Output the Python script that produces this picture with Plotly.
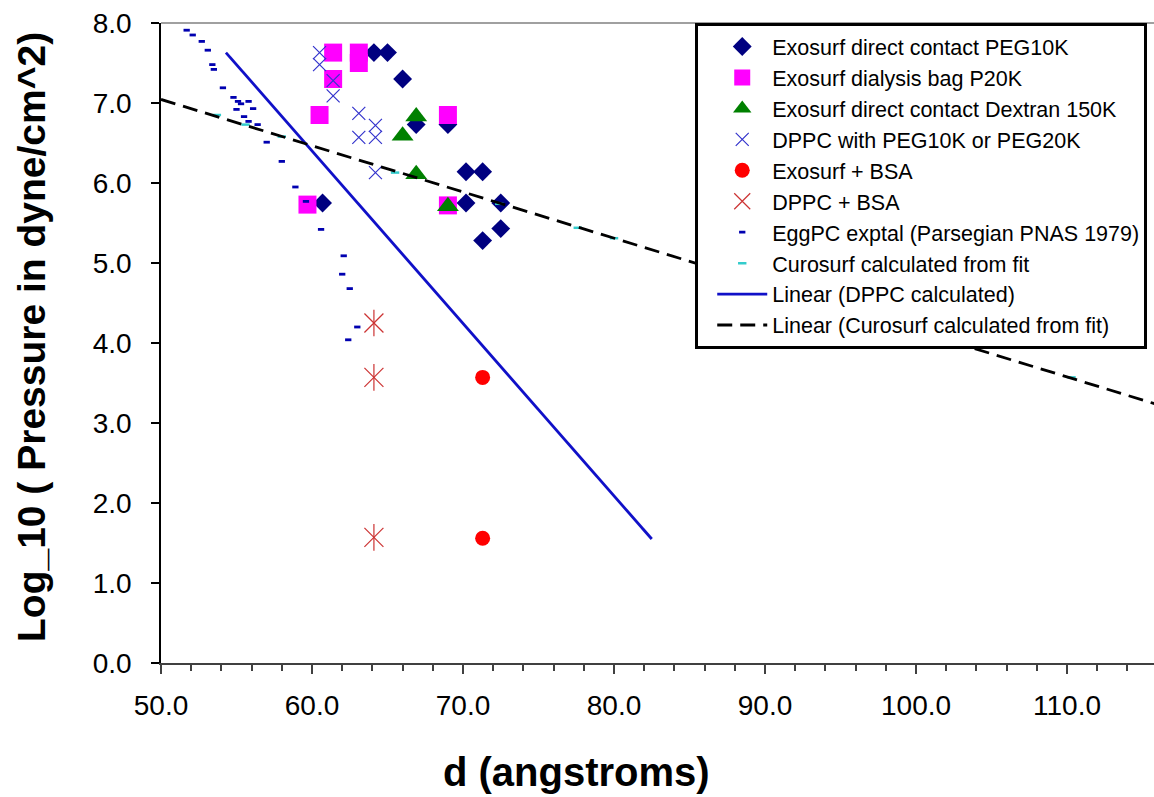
import numpy as np
import plotly.graph_objects as go

# ---------------- data ----------------
peg10k_x = [64.1, 65.0, 66.0, 66.9, 69.0, 70.2, 71.3, 60.7, 70.2, 72.5, 72.5, 71.3]
peg10k_y = [7.63, 7.63, 7.30, 6.73, 6.73, 6.14, 6.14, 5.75, 5.75, 5.75, 5.43, 5.28]

bag_x = [61.4, 63.1, 63.1, 61.4, 60.5, 69.0, 59.7, 69.0]
bag_y = [7.63, 7.63, 7.50, 7.30, 6.85, 6.85, 5.73, 5.72]

dextran_x = [66.9, 66.0, 66.9, 69.0]
dextran_y = [6.83, 6.59, 6.11, 5.71]

dppc_peg_x = [60.5, 60.5, 61.4, 61.4, 63.1, 64.2, 63.1, 64.2, 64.2]
dppc_peg_y = [7.63, 7.48, 7.28, 7.09, 6.87, 6.72, 6.57, 6.57, 6.13]

exo_bsa_x = [71.3, 71.3]
exo_bsa_y = [3.57, 1.56]

dppc_bsa_x = [64.1, 64.1, 64.1]
dppc_bsa_y = [4.25, 3.57, 1.57]

eggpc_x = [51.7, 52.1, 52.7, 53.1, 53.4, 53.5, 54.1, 54.8, 55.1, 55.8, 55.3, 55.0, 56.1,
           55.5, 55.8, 56.4, 57.0, 58.0, 58.9, 59.6, 60.6, 62.1, 62.0, 62.5, 63.0, 62.4]
eggpc_y = [7.91, 7.85, 7.77, 7.66, 7.48, 7.42, 7.19, 7.07, 7.02, 7.02, 6.99, 6.92, 6.93,
           6.83, 6.77, 6.73, 6.51, 6.27, 5.95, 5.77, 5.42, 5.09, 4.86, 4.68, 4.20, 4.04]

curo_x = [53.7, 55.6, 58.0, 65.5, 72.4, 77.6, 80.0, 110.3]
curo_y = [6.85, 6.73, 6.58, 6.13, 5.74, 5.44, 5.31, 3.57]

# DPPC calculated trendline (start / end of the fitted range)
dppc_calc_x = [54.3, 82.5]
dppc_calc_y = [7.63, 1.55]

# Curosurf trendline extent (forecast to the axis edge)
curo_fit_extent = [50.0, 116.0]

x_ticks = [50, 60, 70, 80, 90, 100, 110]
y_ticks = [0, 1, 2, 3, 4, 5, 6, 7, 8]
x_range = [50, 115.76]
y_range = [0, 8]

FONT = "Liberation Sans, Arial, sans-serif"

# linear fit of the Curosurf points
b, a = np.polyfit(curo_x, curo_y, 1)
fit_x = np.array(curo_fit_extent)
fit_y = a + b * fit_x

fig = go.Figure()

fig.add_trace(go.Scatter(
    x=peg10k_x, y=peg10k_y, mode="markers", name="Exosurf direct contact PEG10K",
    legendgroup="g1", marker=dict(symbol="diamond", size=14.5, color="#000080", line=dict(width=0))))
fig.add_trace(go.Scatter(
    x=bag_x, y=bag_y, mode="markers", name="Exosurf dialysis bag P20K",
    legendgroup="g2", marker=dict(symbol="square", size=18, color="#FF00FF", line=dict(width=0))))
fig.add_trace(go.Scatter(
    x=dextran_x, y=dextran_y, mode="markers", name="Exosurf direct contact Dextran 150K",
    legendgroup="g3", marker=dict(symbol="triangle-up", size=19, color="#008000", line=dict(width=0))))
fig.add_trace(go.Scatter(
    x=dppc_peg_x, y=dppc_peg_y, mode="markers", name="DPPC with PEG10K or PEG20K",
    legendgroup="g4", marker=dict(symbol="x-thin", size=13, color="#3333CC",
                                   line=dict(width=1.2, color="#3333CC"))))
fig.add_trace(go.Scatter(
    x=exo_bsa_x, y=exo_bsa_y, mode="markers", name="Exosurf + BSA",
    legendgroup="g5", marker=dict(symbol="circle", size=15, color="#FF0000", line=dict(width=0))))
fig.add_trace(go.Scatter(
    x=dppc_bsa_x, y=dppc_bsa_y, mode="markers", name="DPPC + BSA",
    legendgroup="g6", marker=dict(symbol="x-thin", size=19, color="#CC3333",
                                   line=dict(width=1.2, color="#CC3333"))))
fig.add_trace(go.Scatter(
    x=dppc_bsa_x, y=dppc_bsa_y, mode="markers", name="DPPC + BSA", showlegend=False,
    legendgroup="g6", marker=dict(symbol="line-ns", size=19, color="#CC3333",
                                   line=dict(width=1.2, color="#CC3333"))))
fig.add_trace(go.Scatter(
    x=eggpc_x, y=eggpc_y, mode="markers", name="EggPC exptal (Parsegian PNAS 1979)",
    legendgroup="g7", marker=dict(symbol="line-ew", size=4.5, color="#0000B0",
                                   line=dict(width=2.8, color="#0000B0"))))
fig.add_trace(go.Scatter(
    x=curo_x, y=curo_y, mode="markers", name="Curosurf calculated from fit",
    legendgroup="g8", marker=dict(symbol="line-ew", size=6, color="#33CCCC",
                                   line=dict(width=2.5, color="#33CCCC"))))
fig.add_trace(go.Scatter(
    x=dppc_calc_x, y=dppc_calc_y, mode="lines", name="Linear (DPPC calculated)",
    legendgroup="g9", line=dict(color="#1010C8", width=2.8)))
fig.add_trace(go.Scatter(
    x=fit_x, y=fit_y, mode="lines", name="Linear (Curosurf calculated from fit)",
    legendgroup="g10", line=dict(color="#000000", width=2.8, dash="15px,8px")))

tickfont = dict(family=FONT, size=28, color="#000000")

fig.update_layout(
    width=1154, height=797,
    margin=dict(l=161, r=0, t=23, b=134, autoexpand=False),
    paper_bgcolor="white", plot_bgcolor="white",
    showlegend=True,
    legend=dict(
        x=0.538, y=1.0, xanchor="left", yanchor="top",
        bgcolor="white", bordercolor="#000000", borderwidth=3,
        font=dict(family=FONT, size=21.5, color="#000000"),
        tracegroupgap=5, itemwidth=50, indentation=14, traceorder="normal",
    ),
    xaxis=dict(
        range=x_range, tickvals=x_ticks, tickformat=".1f",
        ticks="outside", ticklen=9, tickwidth=1.5, tickcolor="#404040",
        minor=dict(dtick=2, ticks="outside", ticklen=6, tickwidth=1.5, tickcolor="#404040"),
        showline=True, linecolor="#404040", linewidth=1.5,
        showgrid=False, zeroline=False, tickfont=tickfont, ticklabelstandoff=8,
    ),
    xaxis2=dict(
        range=x_range, overlaying="x", side="bottom", dtick=2, tick0=50,
        ticks="inside", ticklen=6, tickwidth=1.5, tickcolor="#404040",
        showticklabels=False, showline=False, showgrid=False, zeroline=False,
    ),
    yaxis=dict(
        range=y_range, tickvals=y_ticks, tickformat=".1f",
        ticks="outside", ticklen=8, tickwidth=1.5, tickcolor="#000000",
        showline=True, linecolor="#000000", linewidth=1.5,
        showgrid=False, zeroline=False, tickfont=tickfont, ticklabelstandoff=14,
    ),
    shapes=[dict(type="line", xref="paper", yref="paper", x0=0, x1=1, y0=1, y1=1,
                 line=dict(color="#808080", width=1.5))],
    annotations=[
        dict(text="<b>d (angstroms)</b>", xref="paper", yref="paper",
             x=(576 - 161) / 993, y=-(772 - 663) / 640, xanchor="center", yanchor="middle",
             showarrow=False, font=dict(family=FONT, size=40, color="#000000")),
        dict(text="<b>Log_10 ( Pressure in dyne/cm^2)</b>", xref="paper", yref="paper",
             x=(31 - 161) / 993, y=(663 - 337) / 640, xanchor="center", yanchor="middle",
             textangle=-90, showarrow=False, font=dict(family=FONT, size=39, color="#000000")),
    ],
)

fig.write_html(
    "out.html",
    config={"displayModeBar": False},
    post_script="document.body.style.margin='0px';document.body.style.overflow='hidden';",
)
